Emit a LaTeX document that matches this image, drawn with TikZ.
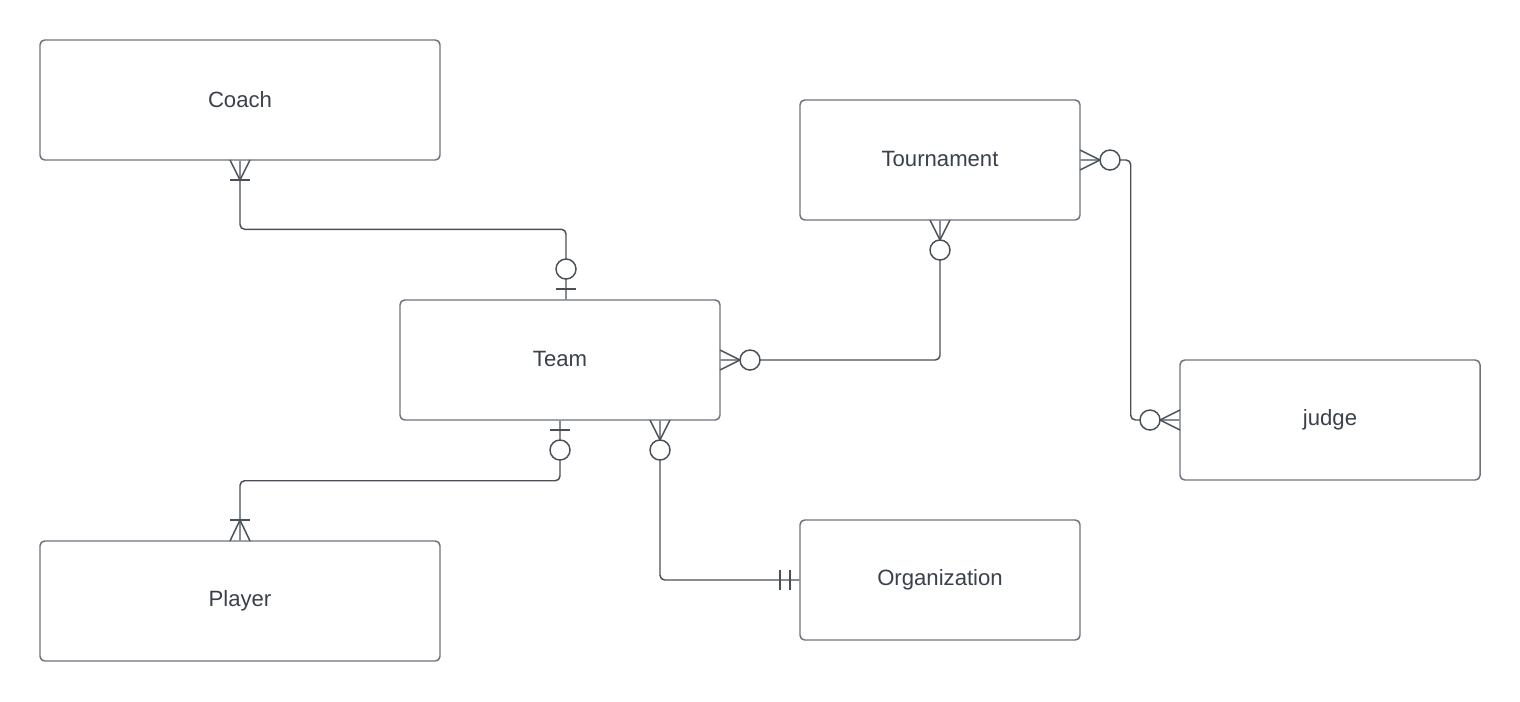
\documentclass[tikz,border=0pt]{standalone}
\usepackage{fontspec}
\setmainfont{Liberation Sans}
\newcommand{\entlabel}[1]{\raisebox{1.2pt}{#1}}
\begin{document}
\begin{tikzpicture}[x=0.75pt,y=-0.75pt,
  ent/.style={draw=boxc, line width=1.1pt, rounded corners=3.5pt, rectangle,
    minimum width=#1, minimum height=90pt, inner sep=0pt,
    font=\fontsize{16.6}{19}\selectfont, text=txtc},
  ent/.default=300pt,
  conn/.style={draw=linec, line width=1.1pt, rounded corners=3.5pt},
  tick/.style={draw=linec, line width=1.1pt},
  ring/.style={draw=linec, line width=1.1pt, fill=white}]
\definecolor{boxc}{HTML}{6E737B}
\definecolor{linec}{HTML}{4A5058}
\definecolor{txtc}{HTML}{3A414A}
\useasboundingbox (0,0) rectangle (1520,701);
\fill[white] (0,0) rectangle (1520,701);

% entities
\node[ent=300pt] (coach) at (240,100) {\entlabel{Coach}};
\node[ent=210pt] (tour) at (940,160) {\entlabel{Tournament}};
\node[ent=240pt] (team) at (560,360) {\entlabel{Team}};
\node[ent=225pt] (judge) at (1330,420) {\entlabel{judge}};
\node[ent=300pt] (player) at (240,601) {\entlabel{Player}};
\node[ent=210pt] (org) at (940,580) {\entlabel{Organization}};

% connectors
\draw[conn] (coach.south) |- ([xshift=4.5pt,yshift=52.5pt]team.north) -- ([xshift=4.5pt]team.north);
\draw[conn] (team.east) -| (tour.south);
\draw[conn] (tour.east) -- ([xshift=37.5pt]tour.east) |- (judge.west);
\draw[conn] (team.south) -- ([yshift=-45pt]team.south) -| (player.north);
\draw[conn] ([xshift=75pt]team.south) |- (org.west);

% Coach end: one or many
\draw[tick] (230,160) -- (240,180) -- (250,160);
\draw[tick] (230,180) -- (250,180);
% Team top: zero or one
\draw[tick] (556,289) -- (576,289);
\draw[ring] (566,269) circle[radius=7.5pt];
% Team right: zero or many
\draw[tick] (720,350) -- (740,360) -- (720,370);
\draw[ring] (750,360) circle[radius=7.5pt];
% Tournament bottom: zero or many
\draw[tick] (930,220) -- (940,240) -- (950,220);
\draw[ring] (940,250) circle[radius=7.5pt];
% Tournament right: zero or many
\draw[tick] (1080,150) -- (1100,160) -- (1080,170);
\draw[ring] (1110,160) circle[radius=7.5pt];
% judge left: zero or many
\draw[tick] (1180,410) -- (1160,420) -- (1180,430);
\draw[ring] (1150,420) circle[radius=7.5pt];
% Team bottom (player): zero or one
\draw[tick] (550,430) -- (570,430);
\draw[ring] (560,450) circle[radius=7.5pt];
% Player top: one or many
\draw[tick] (230,541) -- (240,520) -- (250,541);
\draw[tick] (230,520) -- (250,520);
% Team bottom (org): zero or many
\draw[tick] (650,420) -- (660,440) -- (670,420);
\draw[ring] (660,450) circle[radius=7.5pt];
% Organization left: exactly one
\draw[tick] (780,570) -- (780,590);
\draw[tick] (790,570) -- (790,590);
\end{tikzpicture}
\end{document}
